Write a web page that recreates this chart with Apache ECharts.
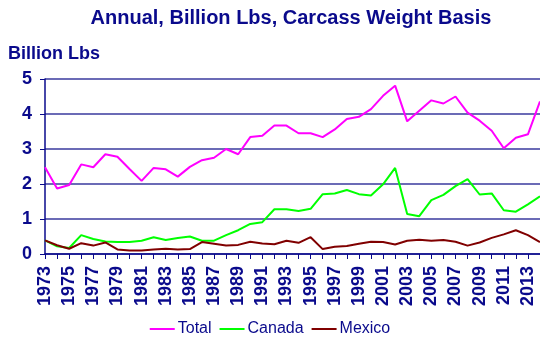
<!DOCTYPE html>
<html>
<head>
<meta charset="utf-8">
<script src="https://cdn.jsdelivr.net/npm/echarts@6/dist/echarts.min.js"></script>
<style>
  html, body { margin: 0; padding: 0; background: #fff; }
  #chart { width: 540px; height: 337px; }
</style>
</head>
<body>
<div id="chart"></div>
<script>
// Beef trade volumes, billion lbs carcass weight, 1973-2014
const years = [];
for (let y = 1973; y <= 2014; y++) years.push(String(y));

const total = [2.48, 1.87, 1.97, 2.56, 2.48, 2.85, 2.78, 2.43, 2.09, 2.46, 2.42, 2.21, 2.49,
  2.68, 2.75, 3.00, 2.85, 3.34, 3.38, 3.67, 3.67, 3.45, 3.45, 3.34, 3.56, 3.86, 3.92, 4.14,
  4.52, 4.81, 3.79, 4.09, 4.39, 4.30, 4.50, 4.04, 3.81, 3.52, 3.02, 3.32, 3.42, 4.36];

const canada = [0.39, 0.22, 0.17, 0.54, 0.43, 0.36, 0.34, 0.34, 0.38, 0.48, 0.40, 0.46, 0.50,
  0.38, 0.38, 0.54, 0.68, 0.86, 0.91, 1.28, 1.28, 1.23, 1.29, 1.71, 1.73, 1.83, 1.71, 1.67,
  1.99, 2.46, 1.14, 1.08, 1.54, 1.69, 1.94, 2.14, 1.70, 1.73, 1.25, 1.21, 1.42, 1.65];

const mexico = [0.39, 0.25, 0.15, 0.31, 0.24, 0.33, 0.13, 0.10, 0.10, 0.13, 0.15, 0.13, 0.14,
  0.34, 0.29, 0.24, 0.26, 0.35, 0.30, 0.28, 0.38, 0.32, 0.48, 0.14, 0.21, 0.23, 0.29, 0.35,
  0.34, 0.27, 0.38, 0.41, 0.38, 0.40, 0.35, 0.24, 0.33, 0.46, 0.56, 0.68, 0.54, 0.34];

const yTicks = [0, 1, 2, 3, 4, 5];

const navy = '#0a0a8c';
const font = '"Liberation Sans", Arial, sans-serif';

const chart = echarts.init(document.getElementById('chart'));
chart.setOption({
  animation: false,
  backgroundColor: '#fff',
  title: [
    {
      text: 'Annual, Billion Lbs, Carcass Weight Basis',
      left: 286, top: 3, textAlign: 'center',
      textStyle: { color: navy, fontFamily: font, fontWeight: 'bold', fontSize: 20 }
    },
    {
      text: 'Billion Lbs',
      left: 3, top: 40,
      textStyle: { color: navy, fontFamily: font, fontWeight: 'bold', fontSize: 18 }
    }
  ],
  legend: {
    bottom: -5, left: 'center',
    itemWidth: 25, itemHeight: 14, itemGap: 8,
    icon: 'path://M0,6 L25,6 L25,8 L0,8 Z',
    textStyle: { color: navy, fontFamily: font, fontSize: 16, padding: [0, 0, 0, -2] },
    data: ['Total', 'Canada', 'Mexico']
  },
  grid: { left: 45, right: 0, top: 79, bottom: 83, containLabel: false },
  xAxis: {
    type: 'category',
    data: years,
    boundaryGap: false,
    axisLine: { lineStyle: { color: navy, width: 1.5 } },
    axisTick: { show: true, length: 5, interval: 0, lineStyle: { color: navy } },
    axisLabel: {
      rotate: 90, interval: 1, margin: 12,
      color: navy, fontFamily: font, fontWeight: 'bold', fontSize: 18
    },
    splitLine: { show: false }
  },
  yAxis: {
    type: 'value',
    min: yTicks[0], max: yTicks[yTicks.length - 1], interval: 1,
    axisLine: { show: true, lineStyle: { color: navy, width: 1.5 } },
    axisTick: { show: true, length: 5, lineStyle: { color: navy } },
    axisLabel: {
      margin: 13, color: navy, fontFamily: font, fontWeight: 'bold', fontSize: 18
    },
    splitLine: { show: true, lineStyle: { color: '#3a3a9e', width: 1.5 } }
  },
  series: [
    { name: 'Total', type: 'line', data: total, symbol: 'none', color: '#ff00ff',
      lineStyle: { width: 2, color: '#ff00ff' } },
    { name: 'Canada', type: 'line', data: canada, symbol: 'none', color: '#00ff00',
      lineStyle: { width: 2, color: '#00ff00' } },
    { name: 'Mexico', type: 'line', data: mexico, symbol: 'none', color: '#800000',
      lineStyle: { width: 2, color: '#800000' } }
  ]
});
</script>
</body>
</html>
